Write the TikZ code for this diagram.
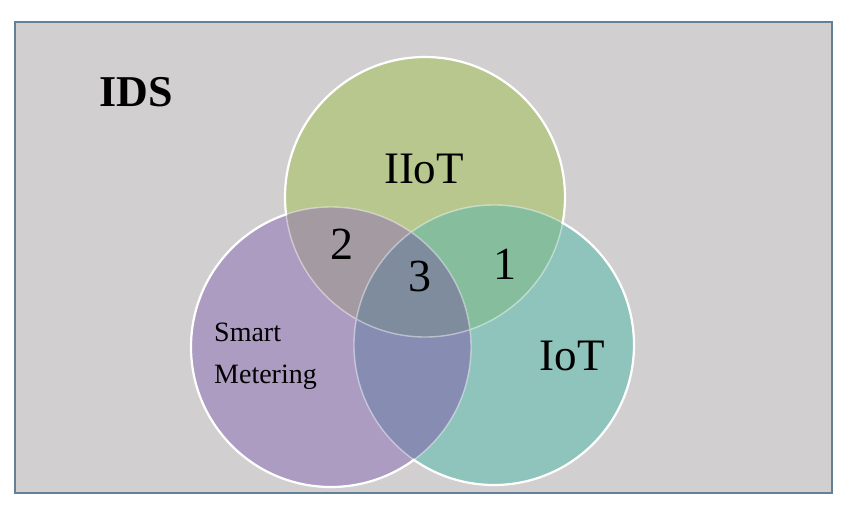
\documentclass[tikz,border=0pt]{standalone}
\usepackage{fontspec}
\setmainfont{Liberation Serif}
\begin{document}
\begin{tikzpicture}[x=1pt,y=-1pt,
  lbl/.style={inner sep=0pt, text=black},
  rim/.style={draw=white, line width=2.2pt},
  innerrim/.style={draw=white, draw opacity=0.45, line width=1.4pt}]
  \definecolor{frameblue}{RGB}{98,128,152}
  \definecolor{panel}{RGB}{210,207,208}
  \definecolor{iiotcol}{RGB}{184,199,142}
  \definecolor{smcol}{RGB}{173,156,194}
  \definecolor{iotcol}{RGB}{142,196,188}
  \definecolor{isect}{RGB}{164,154,162}
  \definecolor{itsect}{RGB}{134,189,156}
  \definecolor{mtsect}{RGB}{134,140,178}
  \definecolor{allsect}{RGB}{126,140,158}
  % page and framed panel
  \useasboundingbox (0,0) rectangle (847,512);
  \fill[white] (0,0) rectangle (847,512);
  \filldraw[fill=panel, draw=frameblue, line width=2.4pt] (15,22) rectangle (832,493);
  % circle centres
  \coordinate (cI) at (425,197);
  \coordinate (cS) at (331,347);
  \coordinate (cT) at (494,345);
  \def\rad{140pt}
  % base discs
  \fill[iiotcol] (cI) circle[radius=\rad];
  \fill[smcol] (cS) circle[radius=\rad];
  \fill[iotcol] (cT) circle[radius=\rad];
  % pairwise overlaps
  \begin{scope}\clip (cI) circle[radius=\rad]; \fill[isect] (cS) circle[radius=\rad];\end{scope}
  \begin{scope}\clip (cI) circle[radius=\rad]; \fill[itsect] (cT) circle[radius=\rad];\end{scope}
  \begin{scope}\clip (cS) circle[radius=\rad]; \fill[mtsect] (cT) circle[radius=\rad];\end{scope}
  % triple overlap
  \begin{scope}\clip (cI) circle[radius=\rad]; \clip (cS) circle[radius=\rad];
    \fill[allsect] (cT) circle[radius=\rad];\end{scope}
  % outlines: faint inside the other discs, bright on the outer rim
  \path[innerrim] (cI) circle[radius=\rad] (cS) circle[radius=\rad] (cT) circle[radius=\rad];
  \begin{scope}[even odd rule]
    \clip (0,0) rectangle (847,512) (cS) circle[radius=\rad-1pt];
    \clip (0,0) rectangle (847,512) (cT) circle[radius=\rad-1pt];
    \draw[rim] (cI) circle[radius=\rad];
  \end{scope}
  \begin{scope}[even odd rule]
    \clip (0,0) rectangle (847,512) (cI) circle[radius=\rad-1pt];
    \clip (0,0) rectangle (847,512) (cT) circle[radius=\rad-1pt];
    \draw[rim] (cS) circle[radius=\rad];
  \end{scope}
  \begin{scope}[even odd rule]
    \clip (0,0) rectangle (847,512) (cI) circle[radius=\rad-1pt];
    \clip (0,0) rectangle (847,512) (cS) circle[radius=\rad-1pt];
    \draw[rim] (cT) circle[radius=\rad];
  \end{scope}
  % labels
  \node[lbl, font=\fontsize{44}{48}\selectfont\bfseries] (ids) at (136,92) {IDS};
  \node[lbl, font=\fontsize{45}{50}\selectfont] (iiot) at (424,169) {IIoT};
  \node[lbl, font=\fontsize{45}{50}\selectfont] (iot) at (572,356) {IoT};
  \node[lbl, font=\fontsize{28}{42}\selectfont, align=left, anchor=west] (sm) at (214,356) {Smart\\Metering};
  \node[lbl, font=\fontsize{46}{48}\selectfont] (n1) at (505,264) {1};
  \node[lbl, font=\fontsize{46}{48}\selectfont] (n2) at (342,244) {2};
  \node[lbl, font=\fontsize{46}{48}\selectfont] (n3) at (420,276) {3};
\end{tikzpicture}
\end{document}
